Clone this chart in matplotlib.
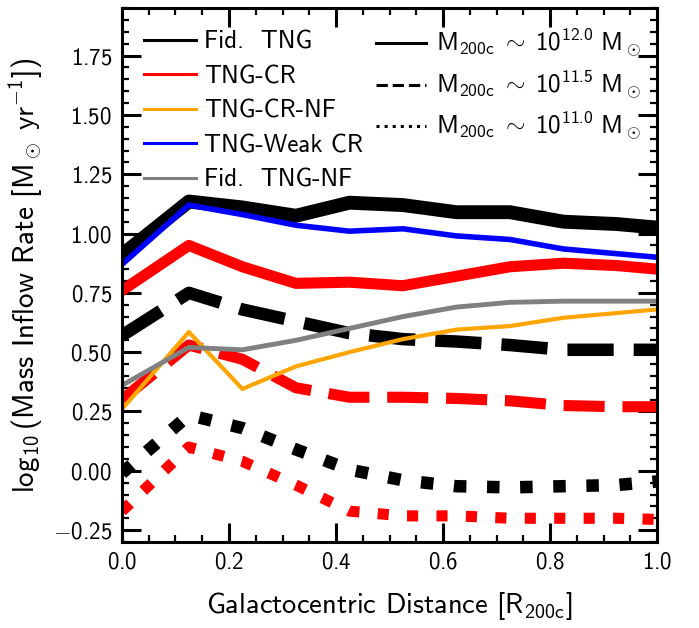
import matplotlib
matplotlib.use("Agg")
import matplotlib.pyplot as plt
from matplotlib.lines import Line2D
from matplotlib.ticker import MultipleLocator, FuncFormatter

plt.rcParams['font.family'] = 'cmss10'
plt.rcParams['mathtext.fontset'] = 'custom'
plt.rcParams['mathtext.rm'] = 'cmss10'
plt.rcParams['mathtext.it'] = 'cmss10'
plt.rcParams['mathtext.sf'] = 'cmss10'

# radial bins [R200c]
r = [0.0, 0.125, 0.225, 0.325, 0.425, 0.525, 0.625, 0.725, 0.825, 0.925, 1.0]

# log10 mass inflow rate
tng_12 = [0.91, 1.135, 1.11, 1.075, 1.13, 1.12, 1.09, 1.09, 1.05, 1.04, 1.025]
tng_115 = [0.57, 0.75, 0.68, 0.63, 0.58, 0.555, 0.545, 0.53, 0.51, 0.51, 0.51]
tng_11 = [-0.01, 0.235, 0.18, 0.09, 0.005, -0.04, -0.065, -0.07, -0.065, -0.06, -0.045]
cr_12 = [0.76, 0.95, 0.86, 0.79, 0.795, 0.78, 0.82, 0.86, 0.875, 0.865, 0.85]
cr_115 = [0.30, 0.53, 0.47, 0.35, 0.31, 0.31, 0.305, 0.295, 0.275, 0.27, 0.27]
cr_11 = [-0.17, 0.10, 0.04, -0.06, -0.17, -0.19, -0.19, -0.20, -0.20, -0.20, -0.205]
crnf_12 = [0.26, 0.585, 0.345, 0.44, 0.50, 0.555, 0.595, 0.61, 0.645, 0.665, 0.68]
weak_12 = [0.87, 1.12, 1.08, 1.035, 1.01, 1.02, 0.99, 0.975, 0.935, 0.915, 0.90]
nf_12 = [0.36, 0.52, 0.51, 0.55, 0.60, 0.65, 0.69, 0.71, 0.715, 0.715, 0.715]

sims = ["Fid.  TNG", "TNG-CR", "TNG-CR-NF", "TNG-Weak CR", "Fid.  TNG-NF"]
sim_colors = ["black", "red", "orange", "blue", "grey"]
masses = ["12.0", "11.5", "11.0"]
styles = ["-", "--", ":"]

fig = plt.figure(figsize=(6.99, 6.28), dpi=100)
ax = fig.add_axes([0.1745, 0.137, 0.7655, 0.85])

ax.plot(r, tng_12, color="black", lw=10, ls="-")
ax.plot(r, tng_115, color="black", lw=9, ls="--")
ax.plot(r, tng_11, color="black", lw=9, ls=":")
ax.plot(r, cr_12, color="red", lw=8, ls="-")
ax.plot(r, cr_115, color="red", lw=8, ls="--")
ax.plot(r, cr_11, color="red", lw=8, ls=":")
ax.plot(r, crnf_12, color="orange", lw=3)
ax.plot(r, weak_12, color="blue", lw=4)
ax.plot(r, nf_12, color="grey", lw=3.5)

ax.set_xlim(0, 1)
ax.set_ylim(-0.3, 1.95)
ax.xaxis.set_major_locator(MultipleLocator(0.2))
ax.xaxis.set_minor_locator(MultipleLocator(0.05))
ax.yaxis.set_major_locator(MultipleLocator(0.25))
ax.yaxis.set_minor_locator(MultipleLocator(0.05))
ax.xaxis.set_major_formatter(FuncFormatter(lambda v, p: r"$%.1f$" % v))
ax.yaxis.set_major_formatter(FuncFormatter(lambda v, p: r"$%.2f$" % v))
ax.tick_params(which="both", direction="in", top=True, right=True, labelsize=16.5)
ax.tick_params(which="major", length=14, width=2.2, pad=7)
ax.tick_params(which="minor", length=5, width=1.6)
for sp in ax.spines.values():
    sp.set_linewidth(2.2)

ax.set_xlabel(r"Galactocentric Distance [$\mathrm{R_{200c}}$]", fontsize=20.5, labelpad=12)
ax.set_ylabel(r"$\log_{10}$(Mass Inflow Rate [$\mathrm{M_\odot\ yr^{-1}}$])", fontsize=21,
              labelpad=6)

h1 = [Line2D([], [], color=c, lw=2.2) for c in sim_colors]
leg1 = ax.legend(h1, sims, loc="upper left", frameon=False, fontsize=18,
                 handlelength=2.1, handletextpad=0.3, labelspacing=0.46,
                 borderpad=0, borderaxespad=0, bbox_to_anchor=(0.041, 0.958))
ax.add_artist(leg1)
h2 = [Line2D([], [], color="black", lw=2.2, ls=s) for s in styles]
lab2 = [r"$\mathrm{M_{200c}}\ \sim\ \mathrm{10^{%s}\ M_\odot}$" % m for m in masses]
ax.legend(h2, lab2, loc="upper left", frameon=False, fontsize=18,
          handlelength=2.0, handletextpad=0.4, labelspacing=0.34,
          borderpad=0, borderaxespad=0, bbox_to_anchor=(0.475, 0.965))

fig.savefig("out.png", dpi=100)
